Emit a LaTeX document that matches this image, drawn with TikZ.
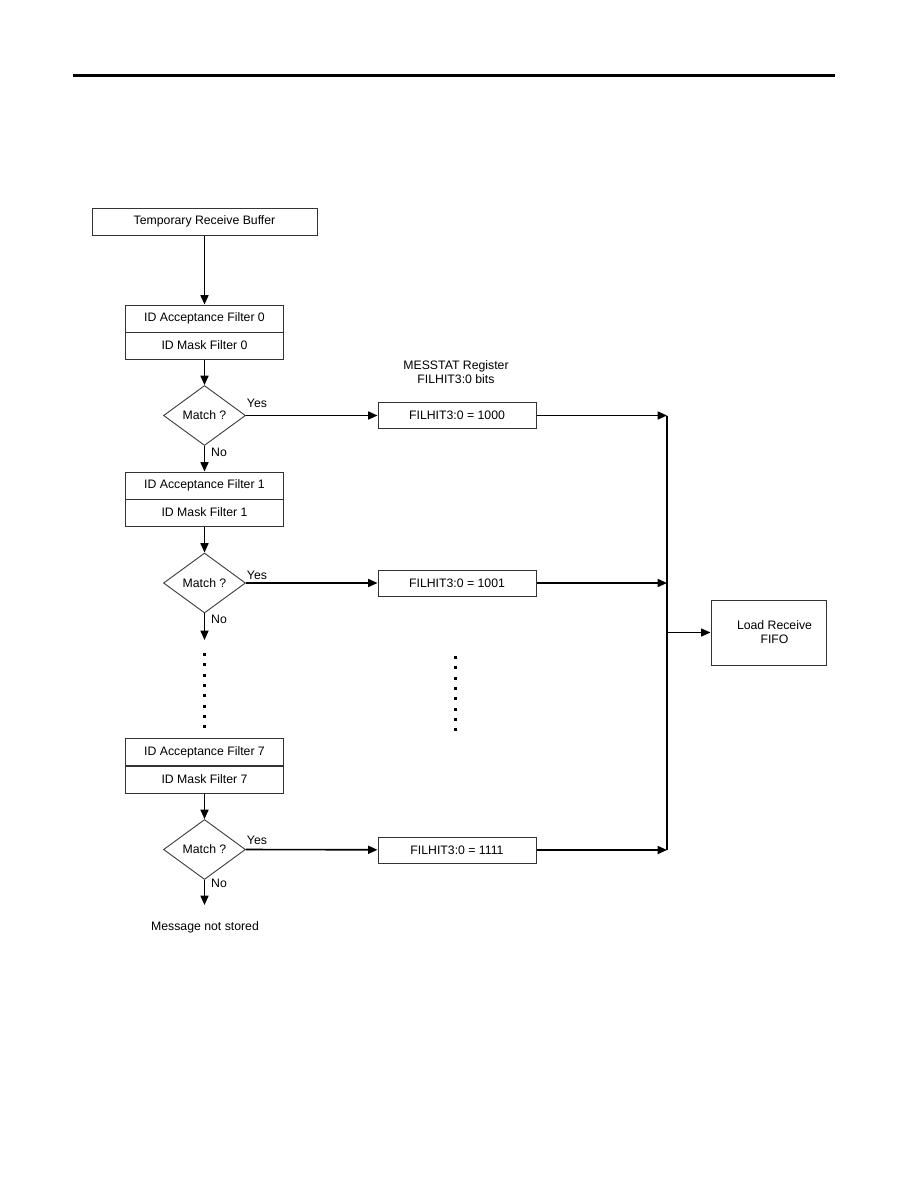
\documentclass[tikz,border=0pt]{standalone}
\usepackage{fontspec}
\setmainfont{Liberation Sans}
\usetikzlibrary{shapes.geometric,arrows.meta}
\begin{document}
\begin{tikzpicture}[x=0.75pt,y=-0.75pt,
  txt/.style={font=\fontsize{9.2}{10.5}\selectfont},
  box/.style={txt, draw=black!80, line width=0.75pt, rectangle, inner sep=0pt},
  filt/.style={box, minimum width=118.5pt, minimum height=20.25pt},
  res/.style={box, minimum width=118.5pt, minimum height=19.5pt},
  dec/.style={txt, diamond, draw=black!75, line width=0.7pt, inner sep=0pt,
              minimum width=61.5pt, minimum height=45pt, aspect=1.37},
  tip/.style={-{Triangle[length=7pt,width=6pt]}},
  conn/.style={line width=1.2pt, tip},
  lbl/.style={txt, inner sep=0pt},
  dotstyle/.style={fill=black}]
\useasboundingbox (0,0) rectangle (918,1188);
% header rule
\coordinate (hl) at (73,75.5);
\coordinate (hr) at (835,75.5);
\draw[line width=2.4pt] (hl) -- (hr);

% nodes
\node[box, minimum width=168.75pt, minimum height=20.25pt] (buf) at (204.5,221.5) {Temporary Receive Buffer};

\node[filt] (a0) at (204.5,318.5) {ID Acceptance Filter 0};
\node[filt] (m0) at (204.5,345.5) {ID Mask Filter 0};
\node[dec] (d0) at (204.5,415.5) {Match ?};
\node[res] (r0) at (457,415.5) {FILHIT3:0 = 1000};

\node[filt] (a1) at (204.5,485.5) {ID Acceptance Filter 1};
\node[filt] (m1) at (204.5,512.5) {ID Mask Filter 1};
\node[dec] (d1) at (204.5,583) {Match ?};
\node[res] (r1) at (457,583) {FILHIT3:0 = 1001};

\node[filt] (a7) at (204.5,752) {ID Acceptance Filter 7};
\node[filt] (m7) at (204.5,779.5) {ID Mask Filter 7};
\node[dec] (d7) at (204.5,849.5) {Match ?};
\node[res] (r7) at (457,850) {FILHIT3:0 = 1111};

\node[box, minimum width=86.25pt, minimum height=48.75pt, align=center] (load) at (768.5,632.5) {\hspace*{9pt}Load Receive\\\hspace*{9pt}FIFO};

\node[lbl, align=center] (mes) at (456,372) {MESSTAT Register\\FILHIT3:0 bits};
\node[lbl] (nst) at (205,927) {Message not stored};

% yes / no labels
\node[lbl] (y0) at (257,403) {Yes};
\node[lbl] (n0) at (219,452.5) {No};
\node[lbl] (y1) at (257,575) {Yes};
\node[lbl] (n1) at (219,619) {No};
\node[lbl] (y7) at (257,840) {Yes};
\node[lbl] (n7) at (219,883.5) {No};

% coordinates
\coordinate (j0) at (667,415.5);
\coordinate (j1) at (667,583);
\coordinate (j7) at (667,850);
\coordinate (jl) at (667,632.5);
\coordinate (e1) at (204.5,640);
\coordinate (e7) at (204.5,905);

% connectors
\draw[conn] (buf) -- (a0);
\draw[conn] (m0) -- (d0);
\draw[conn] (d0) -- (a1);
\draw[conn] (m1) -- (d1);
\draw[conn] (d1) -- (e1);
\draw[conn] (m7) -- (d7);
\draw[conn] (d7) -- (e7);

\draw[conn] (d0.east) -- (r0);
\draw[conn] (d1.east) -- (r1);
\draw[conn] (d7.east) -- (r7);

\draw[conn] (r0) -- (j0);
\draw[conn] (r1) -- (j1);
\draw[conn] (r7) -- (j7);
\draw[line width=1.2pt] (j0) -- (j7);
\draw[line width=0.8pt, tip] (jl) -- (load);

% ellipsis dots
\foreach \i in {0,...,7} {
  \fill[dotstyle] (203,653+10.3*\i) rectangle ++(3,3);
  \fill[dotstyle] (453.5,656+10.3*\i) rectangle ++(3,3);
}
\end{tikzpicture}
\end{document}
